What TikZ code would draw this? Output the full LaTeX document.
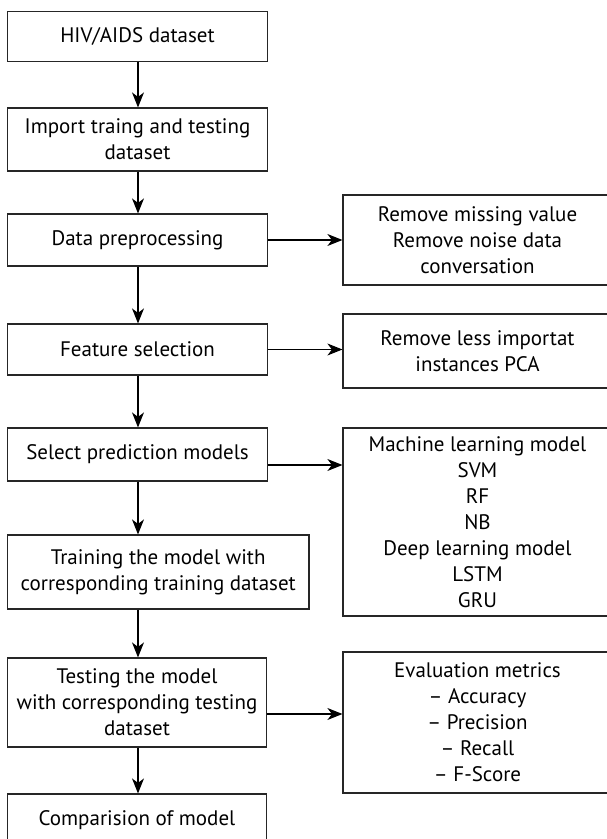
\documentclass[tikz,border=0pt]{standalone}
\usepackage{fontspec}
\setmainfont{PT Sans}
\usetikzlibrary{arrows.meta}
\begin{document}
\begin{tikzpicture}[x=1pt,y=-1pt,
  box/.style={draw=black!85,line width=1.2pt,rectangle,align=center,inner sep=2pt,
    font=\fontsize{21}{26}\selectfont},
  arr/.style={line width=1.2pt,-{Stealth[length=15pt,width=12pt,inset=4.5pt]}}]
\useasboundingbox (0,0) rectangle (607,839);
% main flow
\node[box,minimum width=260pt,minimum height=49.5pt] (hiv)   at (137.5,36.5) {HIV/AIDS dataset};
\node[box,minimum width=260pt,minimum height=63pt]   (imp)   at (137.5,139.5) {Import traing and testing\\dataset};
\node[box,minimum width=260pt,minimum height=52pt]   (pre)   at (137.5,240) {Data preprocessing};
\node[box,minimum width=260pt,minimum height=51pt]   (fea)   at (137.5,349.5) {Feature selection};
\node[box,minimum width=260pt,minimum height=53pt]   (sel)   at (137.5,454.5) {Select prediction models};
\node[box,minimum width=301.5pt,minimum height=74pt] (train) at (158.25,572) {Training the model with\\corresponding training dataset};
\node[box,minimum width=259pt,minimum height=89pt]   (test)  at (137,702.5) {Testing the model\\with corresponding testing\\dataset};
\node[box,minimum width=259pt,minimum height=52pt]   (comp)  at (137,820) {Comparision of model};
% side boxes
\node[box,minimum width=269pt,minimum height=90pt]  (r1) at (477.5,240) {Remove missing value\\Remove noise data\\conversation};
\node[box,minimum width=269pt,minimum height=74pt]  (r2) at (477.5,351) {Remove less importat\\instances PCA};
\node[box,minimum width=269pt,minimum height=188pt] (r3) at (477.5,522) {Machine learning model\\SVM\\RF\\NB\\Deep learning model\\LSTM\\GRU};
\node[box,minimum width=269pt,minimum height=141pt] (r4) at (477.5,722.5) {Evaluation metrics\\– Accuracy\\– Precision\\– Recall\\– F-Score};
% vertical connectors
\coordinate (axis) at (138,0);
\foreach \a/\b in {hiv/imp,imp/pre,pre/fea,fea/sel,sel/train,train/test,test/comp}
  \draw[arr] (axis |- \a.south) -- (axis |- \b.north);
% horizontal connectors
\draw[arr] (pre.east) -- (pre.east -| r1.west);
\draw[arr] (fea.east) -- (fea.east -| r2.west);
\draw[arr] ([yshift=-10.5pt]sel.east) -- ([yshift=-10.5pt]sel.east -| r3.west);
\draw[arr] ([yshift=-11.5pt]test.east) -- ([yshift=-11.5pt]test.east -| r4.west);
\end{tikzpicture}
\end{document}
